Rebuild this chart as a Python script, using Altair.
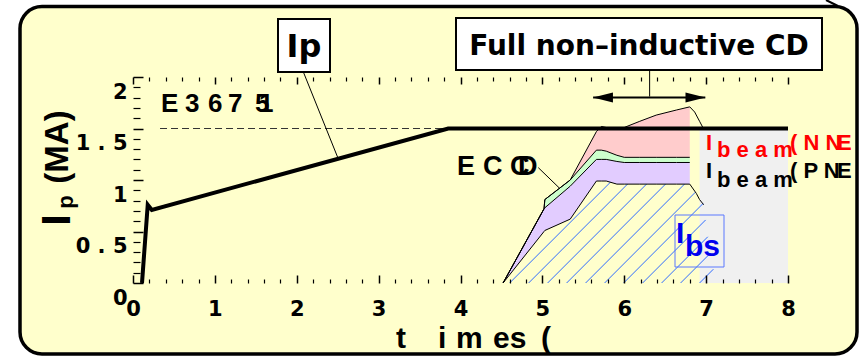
import altair as alt
import numpy as np
import pandas as pd

# ---------------- values ----------------
ip_t = [0.11, 0.18, 0.23, 3.85, 8.0]
ip_v = [0.00, 0.76, 0.71, 1.50, 1.50]

ref_t = [0.33, 3.85]
ref_v = [1.5, 1.5]

cd_t     = [4.52, 5.02, 5.03, 5.34, 5.66, 5.72, 5.78, 5.91, 6.00, 6.19, 6.39, 6.64, 6.80]
ibs_top  = [0.00, 0.50, 0.51, 0.62, 0.99, 0.99, 0.99, 0.96, 0.96, 0.96, 0.96, 0.96, 0.96]
pnb_top  = [0.00, 0.72, 0.73, 0.94, 1.20, 1.20, 1.20, 1.18, 1.17, 1.17, 1.17, 1.17, 1.17]
eccd_top = [0.00, 0.72, 0.81, 1.00, 1.29, 1.29, 1.28, 1.24, 1.22, 1.22, 1.22, 1.22, 1.22]
nnb_top  = [0.00, 0.72, 0.81, 1.00, 1.47, 1.52, 1.51, 1.51, 1.51, 1.57, 1.63, 1.68, 1.71]

nnb_decay_t = [6.80, 6.86, 6.92, 6.96]
nnb_decay_v = [1.71, 1.66, 1.57, 1.51]
ibs_decay_t = [6.80, 6.88, 6.92, 6.97]
ibs_decay_v = [0.96, 0.87, 0.81, 0.76]
ibs_tail_t = [7.02, 7.08, 7.12]
ibs_tail_v = [0.45, 0.17, 0.00]

gray_t = [6.92, 8.0]
gray_v = [0.0, 1.5]

pointer_x  = [2.08, 4.95, 6.31]
pointer_y  = [2.05, 1.12, 2.07]
pointer_x2 = [2.50, 5.21, 6.31]
pointer_y2 = [1.22, 0.92, 1.81]

arrow_t = [5.62, 6.99]
arrow_head_t = [5.74, 6.87]
arrow_v = 1.80

x_major = list(range(0, 9))
x_minor = [round(i * 0.2, 1) for i in range(41) if i % 5]
y_major = [0, 0.5, 1, 1.5, 2]
y_minor = [round(i * 0.1, 1) for i in range(21) if i % 5]

shot_chars = ["E", "3", "6", "7", "5", "1"]
eccd_chars = ["E", "C", "C", "D"]
xtitle_chars = ["t", "i", "m", "es", "("]

# ---------------- layout / style ----------------
W, H = 655, 206
PL, PT = 133, 77
SANS = "Liberation Sans, Arial, sans-serif"
DEJA = "DejaVu Sans, sans-serif"
YELLOW = "#ffffcc"

xs = alt.Scale(domain=[0, 8], nice=False, zero=False)
ys = alt.Scale(domain=[0, 2], nice=False, zero=False)


def X(f, axis=None):
    return alt.X(f, type="quantitative", scale=xs, axis=axis)


def Y(f, axis=None):
    return alt.Y(f, type="quantitative", scale=ys, axis=axis)


one = pd.DataFrame({"k": [0]})


def box(x0, y0, x1, y1, stroke="black", sw=2.0, fill="white", r=0, fop=1.0):
    return alt.Chart(one).mark_rect(
        fill=fill, fillOpacity=fop, stroke=stroke, strokeWidth=sw, cornerRadius=r
    ).encode(x=alt.value(x0 - PL), x2=alt.value(x1 - PL),
             y=alt.value(y0 - PT), y2=alt.value(y1 - PT))


def seg(x0, y0, x1, y1, sw=1.0):
    return alt.Chart(one).mark_rule(color="black", strokeWidth=sw).encode(
        x=alt.value(x0 - PL), x2=alt.value(x1 - PL),
        y=alt.value(y0 - PT), y2=alt.value(y1 - PT))


def txt(s, x, y, size, font=SANS, color="black", align="left",
        baseline="alphabetic", angle=None):
    kw = dict(text=s, fontSize=size, font=font, color=color, align=align,
              baseline=baseline, fontWeight="bold")
    if angle is not None:
        kw["angle"] = angle
    return alt.Chart(one).mark_text(**kw).encode(
        x=alt.value(x - PL), y=alt.value(y - PT))


# ---------------- data tables ----------------
cd = pd.DataFrame(dict(t=cd_t, ibs=ibs_top, pnb=pnb_top, eccd=eccd_top, nnb=nnb_top))

outl = pd.concat([
    pd.DataFrame(dict(s="ibs", t=cd_t + ibs_decay_t[1:], v=ibs_top + ibs_decay_v[1:])),
    pd.DataFrame(dict(s="pnb", t=cd_t, v=pnb_top)),
    pd.DataFrame(dict(s="eccd", t=cd_t, v=eccd_top)),
    pd.DataFrame(dict(s="nnb", t=cd_t + nnb_decay_t[1:], v=nnb_top + nnb_decay_v[1:])),
], ignore_index=True)

# hatch lines (45 deg on screen) under the bootstrap-current boundary
slope = (W / 8) / (H / 2)
bt = np.array(cd_t + ibs_decay_t[1:] + ibs_tail_t)
bv = np.array(ibs_top + ibs_decay_v[1:] + ibs_tail_v)
rows = []
for c in np.arange(4.60, 7.0, 0.232):
    xx = np.linspace(c, 7.4, 4000)
    f = np.interp(xx, bt, bv, left=0, right=0)
    ln = slope * (xx - c)
    hit = np.nonzero(ln >= f)[0]
    hit = hit[hit > 2]
    if len(hit) == 0:
        continue
    k = hit[0]
    rows.append(dict(x=float(c), y=0.0, x2=float(xx[k]), y2=float(ln[k])))
hatch = pd.DataFrame(rows)

ip = pd.DataFrame(dict(t=ip_t, v=ip_v))
refd = pd.DataFrame(dict(t=ref_t, v=ref_v))
gray = pd.DataFrame(dict(x=[gray_t[0]], x2=[gray_t[1]], y=[gray_v[0]], y2=[gray_v[1]]))
ptr = pd.DataFrame(dict(x=pointer_x, y=pointer_y, x2=pointer_x2, y2=pointer_y2))
arr = pd.DataFrame(dict(x=[arrow_t[0]], x2=[arrow_t[1]], y=[arrow_v]))
heads = pd.DataFrame(dict(t=arrow_head_t, v=[arrow_v, arrow_v],
                          sh=["M-1,0L1,-0.5L1,0.5Z", "M1,0L-1,-0.5L-1,0.5Z"]))
dom = pd.DataFrame(dict(t=[0, 8], v=[0, 2]))

# ---------------- marks ----------------
bg = box(20, 6.5, 857, 354, sw=3.5, fill=YELLOW, r=22)
stray = seg(826, 0, 838, 6, sw=2)

gray_l = alt.Chart(gray).mark_rect(color="#f0f0f0").encode(
    x=X("x"), x2="x2", y=Y("y"), y2="y2")

purple = alt.Chart(cd).mark_area(color="#e2ccff", opacity=1).encode(x=X("t"), y=Y("ibs"), y2="pnb")
green = alt.Chart(cd).mark_area(color="#ccffcc", opacity=1).encode(x=X("t"), y=Y("pnb"), y2="eccd")
pink = alt.Chart(cd).mark_area(color="#ffcccc", opacity=1).encode(x=X("t"), y=Y("eccd"), y2="nnb")

hatch_l = alt.Chart(hatch).mark_rule(color="#2f6cff", strokeWidth=1).encode(
    x=X("x"), y=Y("y"), x2="x2", y2="y2")

outl_l = alt.Chart(outl).mark_line(color="black", strokeWidth=1).encode(
    x=X("t"), y=Y("v"), detail="s:N")

ref_l = alt.Chart(refd).mark_line(color="#333333", strokeWidth=1, strokeDash=[7, 4]).encode(
    x=X("t"), y=Y("v"))

ip_l = alt.Chart(ip).mark_line(color="black", strokeWidth=4, strokeJoin="miter").encode(
    x=X("t"), y=Y("v"))

ptr_l = alt.Chart(ptr).mark_rule(color="black", strokeWidth=1).encode(
    x=X("x"), y=Y("y"), x2="x2", y2="y2")

arr_l = alt.Chart(arr).mark_rule(color="black", strokeWidth=2).encode(
    x=X("x"), x2="x2", y=Y("y"))
heads_l = alt.Chart(heads).mark_point(filled=True, color="black", opacity=1, size=400).encode(
    x=X("t"), y=Y("v"), shape=alt.Shape("sh:N", scale=None))

shot_x = [161, 185, 208, 228, 255, 259]
eccd_x = [457, 483, 510, 518]
xtitle_x = [396, 438, 456, 493, 541]

annot = [
    box(278, 19, 330, 72),
    txt("Ip", 304, 57, 32, font=DEJA, align="center"),
    box(456, 18, 822, 70),
    txt("Full non\u2013inductive CD", 639, 55, 28, font=DEJA, align="center"),
]
annot += [txt(ch, x, 112, 26) for ch, x in zip(shot_chars, shot_x)]
annot += [txt(ch, x, 175, 27) for ch, x in zip(eccd_chars, eccd_x)]
annot += [txt(ch, x, 348, 30) for ch, x in zip(xtitle_chars, xtitle_x)]
annot += [
    txt("I", 706, 150, 22, color="red"),
    txt("b e a m", 717, 157, 22, color="red"),
    txt("( N N", 790, 150, 22, color="red"),
    txt("E", 837, 150, 22, color="red"),
    txt("I", 706, 178, 22),
    txt("b e a m", 717, 187, 22),
    txt("( P N", 790, 178, 22),
    txt("E", 837, 178, 22),
    box(675, 215, 724, 267, stroke="#5a78ff", sw=1, fill="white", fop=0),
    txt("I", 676, 243, 30, color="#0000ee"),
    txt("bs", 685, 256, 30, color="#0000ee"),
    txt("(MA)", 68, 147, 33, align="center", angle=270),
    txt("I", 70, 220, 41, align="center", angle=270),
    txt("p", 73, 202, 22, align="center", angle=270),
]

# ---------------- axes (inward ticks via negative offset) ----------------
lab = dict(labelFont=DEJA, labelFontSize=21, labelFontWeight="bold", labelColor="black",
           labelFlush=False, labelOverlap=False)
common = dict(domain=False, grid=False, title=None, tickColor="black", zindex=2)

ax_xb = alt.Axis(values=x_major, orient="bottom", offset=-8, tickSize=8, tickWidth=1.5,
                 labelExpr="format(datum.value, 'd')", labelPadding=15, **lab, **common)
ax_xbm = alt.Axis(values=x_minor, orient="bottom", offset=-4, tickSize=4, tickWidth=1.2,
                  labels=False, **common)
ax_xt = alt.Axis(values=x_major, orient="top", offset=-7, tickSize=7, tickWidth=1.5,
                 labels=False, **common)
ax_xtm = alt.Axis(values=x_minor, orient="top", offset=-4, tickSize=4, tickWidth=1.2,
                  labels=False, **common)
ax_yl = alt.Axis(values=y_major, orient="left", offset=-10, tickSize=10, tickWidth=1.5,
                 labelExpr="datum.value % 1 == 0 ? format(datum.value, 'd') + '\u00a0\u2009' : "
                           "replace(format(datum.value, '.1f'), '.', ' . ')",
                 labelPadding=6, labelOffset=15, labelBaseline="middle", **lab, **common)
ax_ylm = alt.Axis(values=y_minor, orient="left", offset=-7, tickSize=7, tickWidth=1.2,
                  labels=False, **common)

axl1 = alt.Chart(dom).mark_point(opacity=0).encode(x=X("t", ax_xb), y=Y("v", ax_yl))
axl2 = alt.Chart(dom).mark_point(opacity=0).encode(x=X("t", ax_xbm), y=Y("v", ax_ylm))
axl3 = alt.Chart(dom).mark_point(opacity=0).encode(x=X("t", ax_xt), y=Y("v"))
axl4 = alt.Chart(dom).mark_point(opacity=0).encode(x=X("t", ax_xtm), y=Y("v"))

chart = alt.layer(
    bg, stray, gray_l, purple, green, pink, hatch_l, outl_l, ref_l, ip_l,
    ptr_l, arr_l, heads_l, *annot, axl1, axl2, axl3, axl4
).resolve_axis(x="independent", y="independent").properties(
    width=W, height=H,
    autosize=alt.AutoSizeParams(type="none"),
    padding={"left": PL, "top": PT, "right": 866 - PL - W, "bottom": 357 - PT - H},
).configure(background="white").configure_view(stroke="black", strokeWidth=2)

chart.save("out.html", embed_options={"renderer": "svg", "actions": False})
